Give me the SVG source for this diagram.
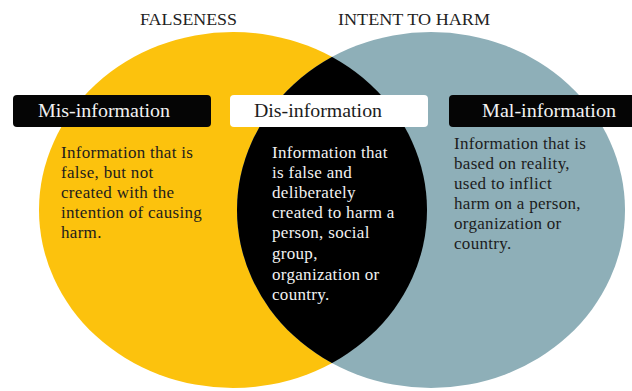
<svg xmlns="http://www.w3.org/2000/svg" width="632" height="391" viewBox="0 0 632 391">
  <style>
    .head { font-family: "Liberation Serif", "Times New Roman", serif; font-size: 17px; fill: #222; }
    .lbl { font-family: "Liberation Serif", "Times New Roman", serif; font-size: 19.5px; }
    .body { font-family: "Liberation Serif", "Times New Roman", serif; font-size: 17px; letter-spacing: 0.3px; }
    .dark { fill: #1c1c1c; }
    .light { fill: #f2f2f2; }
  </style>
  <defs>
    <clipPath id="leftClip">
      <ellipse cx="233" cy="210" rx="194" ry="178"/>
    </clipPath>
  </defs>
  <rect width="632" height="391" fill="#ffffff"/>

  <g id="venn">
    <ellipse cx="233" cy="210" rx="194" ry="178" fill="#fcc20d"/>
    <ellipse cx="431" cy="210" rx="194" ry="178" fill="#8eafb8"/>
    <ellipse cx="431" cy="210" rx="194" ry="178" fill="#000000" clip-path="url(#leftClip)"/>
  </g>

  <g id="headings">
    <text class="head" x="188.5" y="25" text-anchor="middle" textLength="97" lengthAdjust="spacingAndGlyphs">FALSENESS</text>
    <text class="head" x="414" y="25" text-anchor="middle" textLength="152" lengthAdjust="spacingAndGlyphs">INTENT TO HARM</text>
  </g>

  <g id="mis">
    <rect x="13" y="95" width="198" height="32" rx="4" fill="#050505"/>
    <text class="lbl light" x="38" y="117" textLength="132" lengthAdjust="spacingAndGlyphs">Mis-information</text>
    <text class="body dark">
      <tspan x="61" y="158">Information that is</tspan>
      <tspan x="61" y="178">false, but not</tspan>
      <tspan x="61" y="198">created with the</tspan>
      <tspan x="61" y="218">intention of causing</tspan>
      <tspan x="61" y="238">harm.</tspan>
    </text>
  </g>

  <g id="dis">
    <rect x="230" y="95" width="198" height="32" rx="4" fill="#ffffff"/>
    <text class="lbl dark" x="254" y="117" textLength="128" lengthAdjust="spacingAndGlyphs">Dis-information</text>
    <text class="body light">
      <tspan x="272" y="158">Information that</tspan>
      <tspan x="272" y="178">is false and</tspan>
      <tspan x="272" y="198">deliberately</tspan>
      <tspan x="272" y="218">created to harm a</tspan>
      <tspan x="272" y="238">person, social</tspan>
      <tspan x="272" y="259">group,</tspan>
      <tspan x="272" y="280">organization or</tspan>
      <tspan x="272" y="300">country.</tspan>
    </text>
  </g>

  <g id="mal">
    <rect x="449" y="95" width="190" height="32" rx="4" fill="#050505"/>
    <text class="lbl light" x="482" y="117" textLength="134" lengthAdjust="spacingAndGlyphs">Mal-information</text>
    <text class="body dark">
      <tspan x="454" y="149">Information that is</tspan>
      <tspan x="454" y="169">based on reality,</tspan>
      <tspan x="454" y="189">used to inflict</tspan>
      <tspan x="454" y="209">harm on a person,</tspan>
      <tspan x="454" y="229">organization or</tspan>
      <tspan x="454" y="249">country.</tspan>
    </text>
  </g>
</svg>
